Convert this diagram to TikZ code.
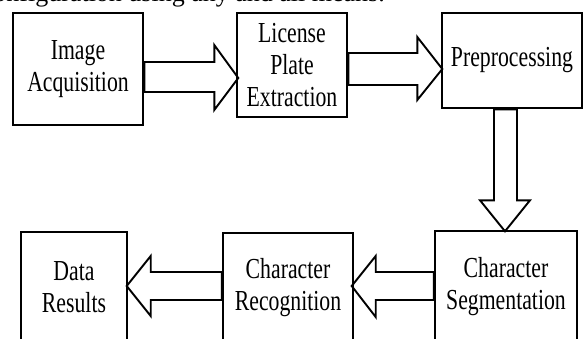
\documentclass[tikz,border=0pt]{standalone}
\usepackage{fontspec}
\newfontfamily\tf[FakeStretch=0.75]{Liberation Serif}
\newfontfamily\bodyf{Liberation Serif}
\usetikzlibrary{calc}
\begin{document}
\begin{tikzpicture}[x=1pt,y=-1pt,
  box/.style={draw, line width=2.6pt, inner sep=0pt, align=center,
    font=\tf\fontsize{29}{32}\selectfont},
  fat/.style={draw, line width=1.9pt, line join=miter}]
\useasboundingbox (0,0) rectangle (584,338);
\clip (0,0) rectangle (584,338);
\node[anchor=base east, inner sep=0pt] (cap) at (385,1.5) {\bodyf\fontsize{26}{30}\selectfont configuration using any and all means.};
% boxes
\node[box, minimum width=130pt, minimum height=112pt] (b1) at (78,69) {Image\\Acquisition};
\node[box, minimum width=110pt, minimum height=104pt] (b2) at (292,65) {License\\Plate\\Extraction};
\node[box, minimum width=140pt, minimum height=95pt] (b3) at (512,60.5) {Preprocessing};
\node[box, minimum width=142pt, minimum height=111pt] (b4) at (506,286.5) {Character\\Segmentation};
\node[box, minimum width=130pt, minimum height=109pt] (b5) at (288,287.5) {Character\\Recognition};
\node[box, minimum width=106pt, minimum height=110pt] (b6) at (74,287) {Data\\Results};
% hollow arrows
\draw[fat] ($(b1.east)+(0,-7)$) -- ++(70,0) -- ++(0,-17) -- ++(24,33) -- ++(-24,32) -- ++(0,-18) -- ++(-70,0) -- cycle;
\draw[fat] ($(b2.east)+(0,-12)$) -- ++(69,0) -- ++(0,-16) -- ++(25,32) -- ++(-25,31) -- ++(0,-15) -- ++(-69,0) -- cycle;
\draw[fat] ($(b3.south)+(-18,0)$) -- ++(0,91) -- ++(-14,0) -- ++(25,31) -- ++(25,-31) -- ++(-13,0) -- ++(0,-91) -- cycle;
\draw[fat] ($(b4.west)+(0,-14.5)$) -- ++(-58,0) -- ++(0,-16) -- ++(-24,30) -- ++(24,31) -- ++(0,-17) -- ++(58,0) -- cycle;
\draw[fat] ($(b5.west)+(0,-15.5)$) -- ++(-71,0) -- ++(0,-16) -- ++(-24,30) -- ++(24,30) -- ++(0,-16) -- ++(71,0) -- cycle;
\end{tikzpicture}
\end{document}
